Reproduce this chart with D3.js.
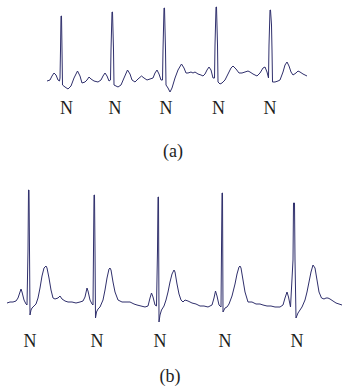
<!DOCTYPE html>
<html>
<head>
<meta charset="utf-8">
<script src="https://cdn.jsdelivr.net/npm/d3@7"></script>
<style>
  html, body { margin: 0; padding: 0; background: #fff; }
  svg { display: block; }
</style>
</head>
<body>
<svg id="chart" width="342" height="390"></svg>
<script>
// ---------- Data ----------
// Panel (a): time (s) and amplitude (mV)
const timeA = [0.00,0.06,0.10,0.14,0.18,0.22,0.25,0.26,0.27,0.28,0.29,0.30,0.31,0.36,0.42,0.48,0.54,0.61,0.66,0.70,0.76,0.80,0.84,0.88,0.94,1.02,1.08,1.12,1.16,1.20,1.24,1.27,1.28,1.30,1.31,1.33,1.34,1.38,1.42,1.48,1.54,1.61,1.66,1.70,1.76,1.82,1.89,1.94,2.00,2.06,2.12,2.16,2.20,2.24,2.28,2.31,2.32,2.34,2.35,2.37,2.38,2.42,2.46,2.50,2.56,2.62,2.69,2.74,2.78,2.82,2.88,2.92,2.96,3.02,3.08,3.12,3.16,3.20,3.24,3.28,3.32,3.35,3.36,3.38,3.39,3.41,3.42,3.46,3.50,3.56,3.62,3.68,3.72,3.78,3.84,3.90,3.96,4.02,4.06,4.12,4.16,4.20,4.26,4.32,4.36,4.40,4.43,4.44,4.46,4.47,4.49,4.50,4.51,4.56,4.62,4.66,4.72,4.76,4.80,4.84,4.88,4.92,4.98,5.02,5.06,5.12,5.16,5.20];
const ecgA = [-0.02,0.00,0.08,0.14,0.10,0.00,-0.02,0.04,0.60,1.28,1.28,0.60,-0.10,-0.14,-0.18,-0.12,0.04,0.18,0.08,-0.06,-0.04,0.00,0.06,0.02,-0.02,-0.04,0.00,0.08,0.14,0.08,-0.02,0.00,0.60,1.36,1.36,0.60,-0.10,-0.12,-0.14,-0.10,0.04,0.20,0.12,0.00,-0.04,0.02,0.08,0.04,0.00,0.02,0.04,0.14,0.20,0.12,0.00,0.00,0.60,1.44,1.44,0.60,-0.10,-0.16,-0.24,-0.16,0.04,0.20,0.32,0.24,0.14,0.14,0.16,0.14,0.16,0.12,0.10,0.08,0.12,0.20,0.26,0.20,0.04,0.04,0.70,1.46,1.46,0.70,-0.04,-0.08,-0.06,0.00,0.12,0.24,0.28,0.22,0.14,0.14,0.16,0.18,0.16,0.12,0.10,0.08,0.14,0.24,0.26,0.16,0.04,0.70,1.40,1.40,1.10,0.60,-0.04,-0.04,-0.02,0.00,0.16,0.30,0.36,0.28,0.16,0.10,0.14,0.18,0.16,0.12,0.10,0.08];

// Panel (b): time (s) and amplitude (mV)
const timeB = [0.00,0.06,0.12,0.18,0.22,0.26,0.28,0.30,0.34,0.38,0.40,0.42,0.43,0.44,0.45,0.46,0.48,0.50,0.54,0.58,0.62,0.66,0.70,0.74,0.78,0.80,0.84,0.88,0.92,0.96,1.02,1.06,1.10,1.16,1.22,1.30,1.38,1.46,1.52,1.56,1.60,1.62,1.66,1.70,1.72,1.73,1.74,1.75,1.76,1.77,1.79,1.82,1.86,1.92,1.96,2.00,2.04,2.06,2.08,2.12,2.16,2.22,2.30,2.38,2.46,2.54,2.60,2.68,2.76,2.82,2.86,2.89,2.92,2.96,2.99,3.01,3.02,3.03,3.04,3.06,3.09,3.14,3.18,3.22,3.26,3.30,3.34,3.36,3.40,3.44,3.48,3.52,3.56,3.62,3.70,3.78,3.86,3.94,4.02,4.10,4.14,4.17,4.20,4.24,4.28,4.29,4.30,4.31,4.32,4.36,4.40,4.44,4.50,4.56,4.60,4.64,4.66,4.68,4.72,4.76,4.82,4.90,4.98,5.06,5.12,5.20,5.28,5.36,5.46,5.52,5.56,5.60,5.63,5.67,5.72,5.73,5.75,5.76,5.78,5.82,5.86,5.90,5.96,6.00,6.04,6.08,6.12,6.16,6.20,6.24,6.29,6.34,6.38,6.42,6.46,6.52,6.58,6.64,6.70];
const ecgB = [-0.02,0.00,0.00,0.02,0.08,0.20,0.26,0.20,0.04,-0.04,-0.06,1.04,2.24,2.24,1.04,-0.26,-0.16,-0.12,-0.08,-0.04,0.08,0.28,0.52,0.68,0.72,0.68,0.48,0.24,0.08,0.06,0.08,0.12,0.06,0.02,0.00,0.00,-0.02,0.00,0.02,0.10,0.28,0.22,0.04,-0.04,-0.06,1.04,2.14,2.14,1.04,-0.32,-0.20,-0.14,-0.10,0.04,0.24,0.48,0.66,0.68,0.64,0.40,0.20,0.04,0.00,0.00,0.00,-0.04,-0.06,-0.08,-0.10,-0.08,0.08,0.18,0.10,-0.06,-0.08,1.04,2.10,2.10,-0.40,-0.26,-0.16,-0.08,0.04,0.20,0.40,0.56,0.64,0.60,0.36,0.16,0.04,0.00,0.04,0.02,-0.02,-0.04,-0.08,-0.08,-0.10,-0.06,0.08,0.22,0.12,-0.06,-0.10,1.04,2.18,2.18,-0.20,-0.12,-0.10,-0.04,0.12,0.36,0.56,0.70,0.72,0.68,0.44,0.20,0.00,0.00,-0.04,-0.04,-0.06,-0.08,-0.08,-0.10,-0.10,-0.06,0.08,0.20,0.10,-0.10,0.84,1.98,1.98,0.84,-0.32,-0.22,-0.16,-0.10,0.04,0.20,0.40,0.60,0.74,0.68,0.44,0.20,0.08,0.06,0.08,0.08,0.06,0.02,-0.02,-0.04,-0.06];

// Beat annotations
const beatLabelsA = ["N","N","N","N","N"];
const beatTimesA = [0.39,1.36,2.38,3.43,4.46];
const beatLabelsB = ["N","N","N","N","N"];
const beatTimesB = [0.46,1.80,3.06,4.36,5.80];
const captions = ["(a)", "(b)"];

// ---------- Drawing ----------
const svg = d3.select("#chart");
const lineColor = "#2f2f6c";
const textColor = "#1e1e1e";
const font = "'Liberation Serif', 'Times New Roman', serif";

function drawPanel(cfg) {
  const x = d3.scaleLinear().domain(cfg.xDomain).range(cfg.xRange);
  const y = d3.scaleLinear().domain(cfg.yDomain).range(cfg.yRange);
  const data = cfg.time.map((t, i) => [t, cfg.ecg[i]]);
  const line = d3.line().x(d => x(d[0])).y(d => y(d[1]));
  svg.append("path")
    .datum(data)
    .attr("d", line)
    .attr("fill", "none")
    .attr("stroke", lineColor)
    .attr("stroke-width", 1)
    .attr("stroke-linejoin", "round");
  svg.append("g").selectAll("text")
    .data(cfg.labels)
    .join("text")
    .attr("x", (d, i) => x(cfg.labelTimes[i]))
    .attr("y", cfg.labelY)
    .attr("text-anchor", "middle")
    .attr("font-family", font)
    .attr("font-size", 18)
    .attr("fill", textColor)
    .text(d => d);
  svg.append("text")
    .attr("x", cfg.captionX)
    .attr("y", cfg.captionY)
    .attr("text-anchor", "middle")
    .attr("font-family", font)
    .attr("font-size", 18)
    .attr("fill", textColor)
    .text(cfg.caption);
}

drawPanel({
  time: timeA, ecg: ecgA,
  xDomain: [0, 5.2], xRange: [47, 307],
  yDomain: [-0.4, 1.5], yRange: [100, 5],
  labels: beatLabelsA, labelTimes: beatTimesA, labelY: 114,
  caption: captions[0], captionX: 173, captionY: 157
});

drawPanel({
  time: timeB, ecg: ecgB,
  xDomain: [0, 6.7], xRange: [7, 342],
  yDomain: [-0.6, 2.4], yRange: [332, 182],
  labels: beatLabelsB, labelTimes: beatTimesB, labelY: 347,
  caption: captions[1], captionX: 170, captionY: 382
});
</script>
</body>
</html>
